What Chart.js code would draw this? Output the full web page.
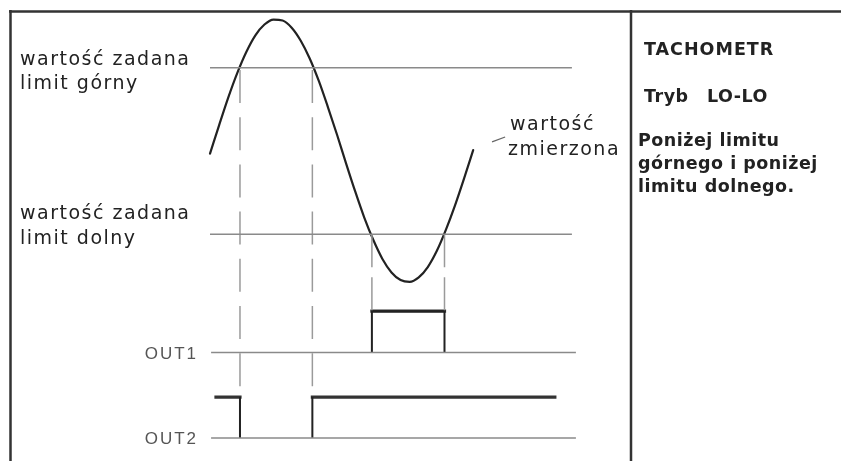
<!DOCTYPE html>
<html><head><meta charset="utf-8">
<script src="https://cdn.jsdelivr.net/npm/chart.js@4"></script>
<style>html,body{margin:0;padding:0;background:#fff;overflow:hidden}canvas{display:block}</style>
</head><body>
<canvas id="c" width="841" height="461"></canvas>
<script>
// ---- data (time in arbitrary units, level in arbitrary units) ----
const timeSteps = [0,2.5,5,7.5,10,12.5,15,17.5,20,22.5,25,27.5,30,32.5,35,37.5,40,42.5,45,47.5,50,52.5,55,57.5,60,62.5,65,67.5,70,72.5];
const measuredValue = [68.3,74.6,80.7,86.2,90.9,94.6,97.0,98.1,97.9,96.3,93.4,89.4,84.4,78.6,72.5,66.1,59.9,54.1,49.1,44.9,41.9,40.2,39.8,40.8,43.1,46.7,51.4,56.8,62.8,69.1];
const setpointUpper = 87.4;
const setpointLower = 50.4;
const setpointSpan = [0, 99.7];
const outputSpan = [0.3, 100.8];
const out1Level = [24.1, 33.3];   // low, high
const out2Level = [5.1, 14.2];    // low, high
const out1Edges = [44.6, 64.6];   // measured value below lower limit
const out2Edges = [8.26, 28.2];   // measured value above upper limit
const out2Span = [1.65, 95];
const pointerX = [77.7, 81.3];
const pointerY = [70.9, 72.0];
const leftLabels = ['wartość zadana', 'limit górny', 'wartość zadana', 'limit dolny'];
const curveLabel = ['wartość', 'zmierzona'];
const outputLabels = ['OUT1', 'OUT2'];
const panelTitle = 'TACHOMETR';
const panelMode = ['Tryb', 'LO-LO'];
const panelDesc = ['Poniżej limitu', 'górnego i poniżej', 'limitu dolnego.'];

const GRAY = '#8a8a8a', DASH = '#9a9a9a', DARK = '#222';
const pt = (x, y) => ({x, y});
function seg(points, color, width, extra) {
  return Object.assign({
    data: points, showLine: true, borderColor: color, borderWidth: width,
    pointRadius: 0, pointHoverRadius: 0, fill: false, clip: false,
    borderCapStyle: 'butt', borderJoinStyle: 'miter', spanGaps: false
  }, extra || {});
}

const datasets = [
  seg([pt(setpointSpan[0], setpointUpper), pt(setpointSpan[1], setpointUpper)], GRAY, 1.5),
  seg([pt(setpointSpan[0], setpointLower), pt(setpointSpan[1], setpointLower)], GRAY, 1.5),
  seg([pt(outputSpan[0], out1Level[0]), pt(outputSpan[1], out1Level[0])], GRAY, 1.5),
  seg([pt(outputSpan[0], out2Level[0]), pt(outputSpan[1], out2Level[0])], GRAY, 1.5),
  // dashed projections of the upper-limit crossings
  seg([pt(out2Edges[0], setpointUpper), pt(out2Edges[0], out2Level[1])], DASH, 1.5, {borderDash:[33,14.2], borderDashOffset:44.9}),
  seg([pt(out2Edges[1], setpointUpper), pt(out2Edges[1], out2Level[1])], DASH, 1.5, {borderDash:[33,14.2], borderDashOffset:44.9}),
  // dashed projections of the lower-limit crossings
  seg([pt(out1Edges[0], setpointLower), pt(out1Edges[0], out1Level[1])], DASH, 1.5, {borderDash:[33,10]}),
  seg([pt(out1Edges[1], setpointLower), pt(out1Edges[1], out1Level[1])], DASH, 1.5, {borderDash:[33,10]}),
  // OUT1 pulse
  seg([pt(out1Edges[0], out1Level[0]), pt(out1Edges[0], out1Level[1]), pt(out1Edges[1], out1Level[1]), pt(out1Edges[1], out1Level[0])], DARK, 2),
  seg([pt(out1Edges[0], out1Level[1]), pt(out1Edges[1], out1Level[1])], '#333', 3.2, {borderCapStyle:'square'}),
  // OUT2 signal
  seg([pt(out2Edges[0], out2Level[1]), pt(out2Edges[0], out2Level[0]), pt((out2Edges[0]+out2Edges[1])/2, null), pt(out2Edges[1], out2Level[0]), pt(out2Edges[1], out2Level[1])], DARK, 2),
  seg([pt(out2Span[0], out2Level[1]), pt(out2Edges[0], out2Level[1]), pt((out2Edges[0]+out2Edges[1])/2, null), pt(out2Edges[1], out2Level[1]), pt(out2Span[1], out2Level[1])], '#333', 3.2, {borderCapStyle:'square'}),
  // measured value
  seg(timeSteps.map((t, i) => pt(t, measuredValue[i])), DARK, 2.2, {cubicInterpolationMode:'monotone', borderJoinStyle:'round', borderCapStyle:'round'}),
  // label pointer
  seg(pointerX.map((x, i) => pt(x, pointerY[i])), '#666', 1.3)
];

const decor = {
  id: 'decor',
  beforeDatasetsDraw(chart) {
    const c = chart.ctx;
    c.save();
    c.strokeStyle = '#333';
    c.lineWidth = 2.5;
    c.beginPath();
    c.moveTo(9, 11.5); c.lineTo(841, 11.5);
    c.moveTo(10.5, 10); c.lineTo(10.5, 461);
    c.moveTo(631, 10); c.lineTo(631, 461);
    c.stroke();
    c.restore();
  },
  afterDraw(chart) {
    const c = chart.ctx;
    c.save();
    c.textBaseline = 'alphabetic';
    c.fillStyle = '#222';
    c.font = '19px "DejaVu Sans"';
    c.letterSpacing = '1.5px';
    c.textAlign = 'left';
    c.fillText(leftLabels[0], 20, 65);
    c.fillText(leftLabels[1], 20, 89);
    c.fillText(leftLabels[2], 20, 219);
    c.fillText(leftLabels[3], 20, 244);
    c.fillText(curveLabel[0], 510, 130);
    c.fillText(curveLabel[1], 508, 155);

    c.fillStyle = '#555';
    c.font = '17px "Liberation Sans"';
    c.letterSpacing = '2px';
    c.textAlign = 'right';
    c.fillText(outputLabels[0], 198, 358.5);
    c.fillText(outputLabels[1], 198, 444);

    c.fillStyle = '#222';
    c.textAlign = 'left';
    c.font = 'bold 17.5px "DejaVu Sans"';
    c.letterSpacing = '1px';
    c.fillText(panelTitle, 644, 55);
    c.letterSpacing = '0.5px';
    c.fillText(panelMode[0], 644, 102);
    c.fillText(panelMode[1], 707, 102);
    c.fillText(panelDesc[0], 638, 146);
    c.fillText(panelDesc[1], 638, 169);
    c.fillText(panelDesc[2], 638, 192);
    c.restore();
  }
};

new Chart(document.getElementById('c'), {
  type: 'scatter',
  data: { datasets },
  options: {
    responsive: false,
    devicePixelRatio: 1,
    animation: false,
    events: [],
    layout: { padding: { left: 210, right: 268, top: 11, bottom: 0 } },
    plugins: { legend: { display: false }, tooltip: { enabled: false } },
    scales: {
      x: { type: 'linear', min: 0, max: 100, display: false },
      y: { type: 'linear', min: 0, max: 100, display: false }
    }
  },
  plugins: [decor]
});
</script>
</body></html>
